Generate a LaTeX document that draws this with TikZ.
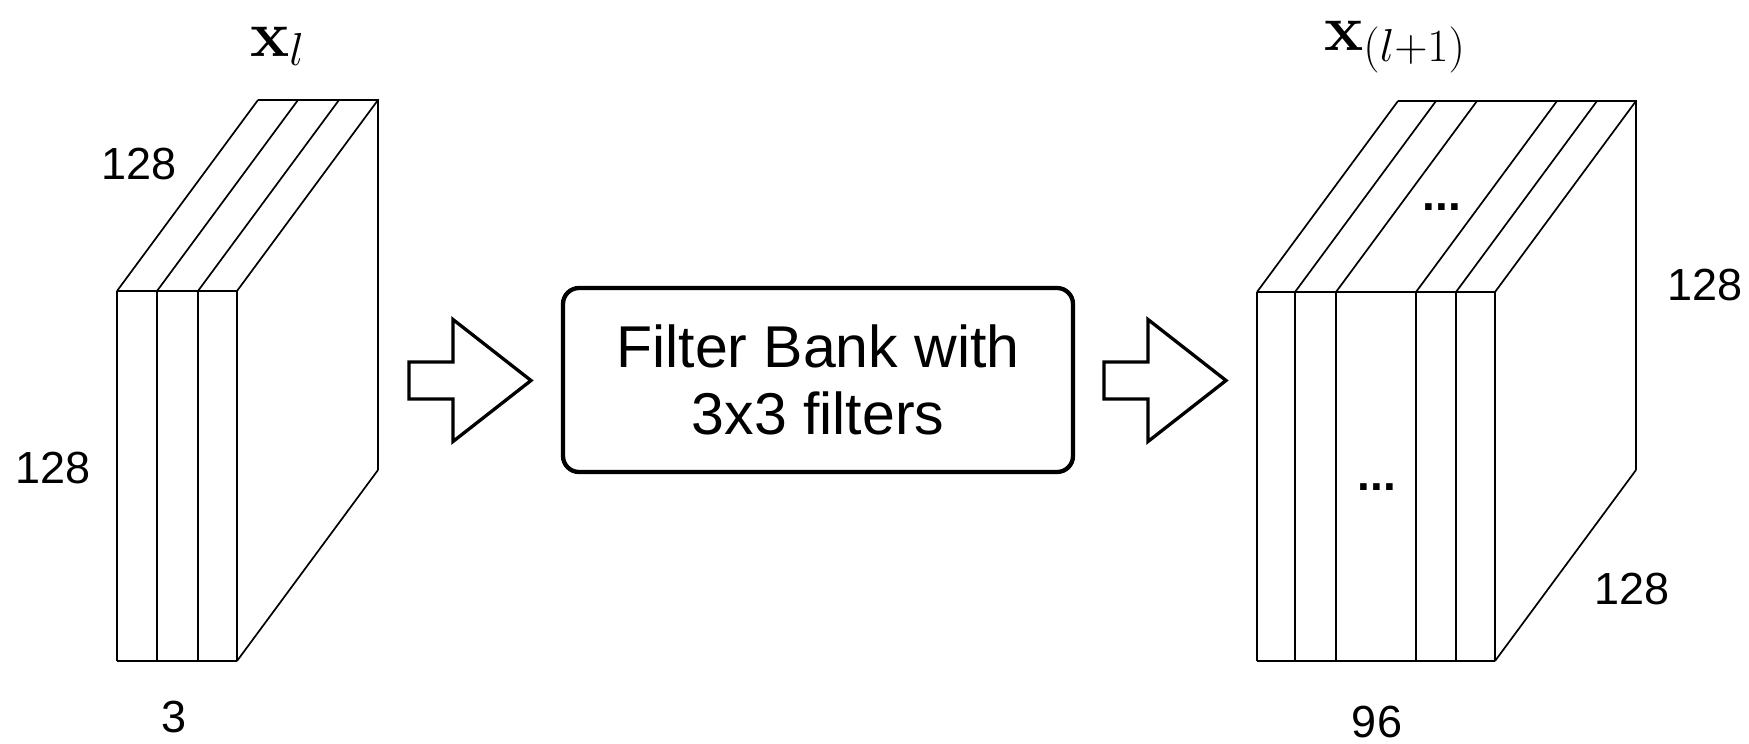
\RequirePackage{fix-cm}
\documentclass[tikz,border=0pt]{standalone}
\usepackage[no-math]{fontspec}
\setmainfont{Liberation Sans}
\begin{document}
\begin{tikzpicture}[x=1pt,y=-1pt,
  strip/.style={line width=2pt},
  slant/.style={line width=1.7pt},
  dim/.style={font=\fontsize{45}{54}\selectfont, inner sep=0pt},
  dots/.style={font=\fontsize{46}{54}\selectfont\bfseries, inner sep=0pt},
  tensor/.style={font=\fontsize{66}{76}\selectfont, inner sep=0pt, anchor=base west},
  bank/.style={draw, line width=4.3pt, rounded corners=16pt, minimum width=510pt,
    minimum height=184pt, align=center, font=\fontsize{59}{67}\selectfont},
  fatarrow/.pic={\draw[line width=3.3pt, line join=miter, fill=white]
    (0,-18.5) -- (44,-18.5) -- (44,-61) -- (122,0) -- (44,61) -- (44,18.5) -- (0,18.5) -- cycle;}
]
\useasboundingbox (0,0) rectangle (1749,744);

% input tensor: 3 channels of 128x128
\foreach \x in {117,157,198,237} {
  \draw[slant] (\x,291) -- ++(141,-191);
  \draw[strip] (\x,291) -- (\x,661);
}
\draw[strip] (117,291) -- (237,291);
\draw[strip] (117,661) -- (237,661);
\draw[strip] (258,100) -- (378,100) -- (378,470);
\draw[slant] (237,661) -- (378,470);

\node[tensor] (xin) at (250,56) {$\mathbf{x}_l$};
\node[dim] (inW) at (139,164) {128};
\node[dim] (inH) at (53,468) {128};
\node[dim] (inC) at (174,717) {3};

% filter bank between two hollow arrows
\pic at (409,380.5) {fatarrow};
\node[bank] (bank) at (818,380) {Filter Bank with\\3x3 filters};
\pic at (1104,380.5) {fatarrow};

% output tensor: 96 channels of 128x128
\foreach \x in {1257,1295,1336,1416,1456,1495} {
  \draw[slant] (\x,292) -- ++(141,-191);
  \draw[strip] (\x,292) -- (\x,661);
}
\draw[strip] (1257,292) -- (1495,292);
\draw[strip] (1257,661) -- (1495,661);
\draw[strip] (1398,101) -- (1636,101) -- (1636,470);
\draw[slant] (1495,661) -- (1636,470);

\node[dots] (topdots) at (1442,207) {...};
\node[dots] (frontdots) at (1377,487) {...};

\node[tensor] (xout) at (1324,50) {$\mathbf{x}_{(l+1)}$};
\node[dim] (outH) at (1705,285) {128};
\node[dim] (outW) at (1632,589) {128};
\node[dim] (outC) at (1377,722) {96};
\end{tikzpicture}
\end{document}
